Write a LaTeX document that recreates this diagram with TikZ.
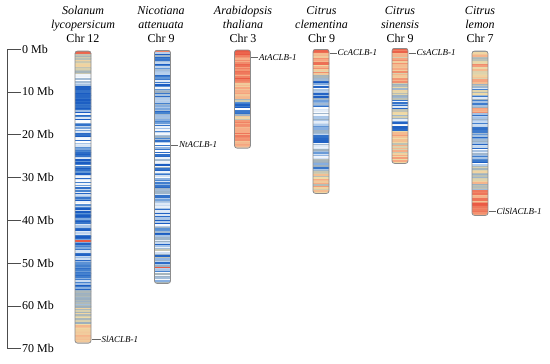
\documentclass[tikz,border=0pt]{standalone}
\usepackage{fontspec}
\setmainfont{Liberation Serif}
\usetikzlibrary{positioning}
\usepackage{xcolor}
% heat colours, low to high
\definecolor{h0}{HTML}{1A5CC2}
\definecolor{h1}{HTML}{4A86D0}
\definecolor{h2}{HTML}{FFFFFF}
\definecolor{h3}{HTML}{A9C6E8}
\definecolor{h4}{HTML}{9AAEBE}
\definecolor{h5}{HTML}{EFDCA8}
\definecolor{h6}{HTML}{F6AA84}
\definecolor{h7}{HTML}{EA5A44}

% name, x centre, y top, y bottom, segments (from/to/level/spread)
\newcommand{\chrom}[5]{%
  \begin{scope}
    \clip[rounded corners=2.5pt] (#2-8,#3) rectangle (#2+8,#4);
    \foreach \ta/\tb/\lv/\sd in {#5} {
      \pgfmathsetmacro\ya{#3+\ta*(#4-#3)}
      \pgfmathsetmacro\yb{#3+\tb*(#4-#3)}
      \pgfmathtruncatemacro\nb{max(1,round((\yb-\ya)/1.4))}
      \pgfmathsetmacro\hb{(\yb-\ya)/\nb}
      \foreach \j in {1,...,\nb} {
        \pgfmathsetmacro\lvv{max(0,min(6.999,\lv+\sd*rand))}
        \pgfmathtruncatemacro\k{floor(\lvv)}
        \pgfmathtruncatemacro\kn{\k+1}
        \pgfmathtruncatemacro\pc{round(100*(1-\lvv+\k))}
        \fill[h\k!\pc!h\kn] (#2-9,\ya+\j*\hb-\hb) rectangle (#2+9,\ya+\j*\hb+0.2);
      }
    }
  \end{scope}
  \node[chrbar, minimum height={(#4-#3)*1pt}, anchor=north] (#1) at (#2,#3) {};
}

\begin{document}
\begin{tikzpicture}[
  x=1pt, y=-1pt,
  every node/.style={font=\fontsize{12}{14}\selectfont},
  chrbar/.style={draw=black!45, line width=0.8pt, rounded corners=2.5pt,
    minimum width=16pt, inner sep=0pt},
  title/.style={align=center, anchor=south, inner sep=0pt},
  mblab/.style={anchor=west, inner sep=1pt},
  axisline/.style={draw=black!70, line width=0.6pt},
  genelab/.style={font=\fontsize{9}{10}\selectfont\itshape, inner sep=1pt},
  geneline/.style={draw=black!60, line width=0.5pt}
]
  \useasboundingbox (0,0) rectangle (550,364);
  \pgfmathsetseed{23}

  % Scale
  \coordinate (atop) at (7,49);
  \coordinate (abot) at (7,348.6);
  \draw[axisline] (atop) -- (abot);
  \foreach \v/\t in {0/0,1/10,2/20,3/30,4/40,5/50,6/60,7/70} {
    \coordinate (tk\v) at (7,49+42.8*\v);
    \node[mblab] (mb\v) at (21,49+42.8*\v) {\t{} Mb};
    \draw[axisline] (tk\v) -- (mb\v.west);
  }

  % Titles
  \node[title] (sltitle) at (83,42.5) {\textit{Solanum}\\\textit{lycopersicum}\\Chr 12};
  \node[title] (nttitle) at (161,42.5) {\textit{Nicotiana}\\\textit{attenuata}\\Chr 9};
  \node[title] (attitle) at (243,42.5) {\textit{Arabidopsis}\\\textit{thaliana}\\Chr 3};
  \node[title] (cctitle) at (321.5,42.5) {\textit{Citrus}\\\textit{clementina}\\Chr 9};
  \node[title] (cstitle) at (400,42.5) {\textit{Citrus}\\\textit{sinensis}\\Chr 9};
  \node[title] (cltitle) at (480,42.5) {\textit{Citrus}\\\textit{lemon}\\Chr 7};

  % Chromosomes
  \chrom{sl}{83}{50.7}{342.7}{0/0.012/6.9/0.1, 0.012/0.08/4.7/0.6, 0.08/0.12/2.5/1.5,
    0.12/0.2/0.3/0.4, 0.2/0.65/1.2/1.4, 0.65/0.655/7/0, 0.655/0.72/1.2/1.4,
    0.72/0.82/0.8/0.9, 0.82/0.88/3.8/0.5, 0.88/0.94/4.6/0.6, 0.94/1/5.6/0.5}
  \chrom{nt}{162.5}{50}{283}{0/0.01/6.5/0, 0.01/0.85/1.9/2.0, 0.85/0.93/2.6/2.4,
    0.93/0.935/7/0, 0.935/1/2.5/2.2}
  \chrom{at}{242.5}{49.5}{147.7}{0/0.06/6.9/0.2, 0.06/0.33/6.4/0.6, 0.33/0.5/5.7/0.7,
    0.5/0.53/4.3/0.5, 0.53/0.6/0.5/0.6, 0.6/0.615/2/0, 0.615/0.66/0.9/0.6,
    0.66/0.72/4.6/0.8, 0.72/1/6.1/0.6}
  \chrom{cc}{321}{49}{193}{0/0.03/6.8/0.2, 0.03/0.18/5.8/1.0, 0.18/0.22/4/1,
    0.22/0.6/2/2, 0.6/0.65/0.4/0.5, 0.65/0.85/2.4/1.9, 0.85/1/5.2/1.0}
  \chrom{cs}{400}{48}{163}{0/0.04/6.7/0.2, 0.04/0.3/5.6/0.9, 0.3/0.45/4.5/1,
    0.45/0.53/1.2/1.2, 0.53/0.62/4.4/1, 0.62/0.72/1.2/1.2, 0.72/1/5.3/0.9}
  \chrom{cl}{480}{50.7}{215}{0/0.08/5/0.9, 0.08/0.2/5.6/0.9, 0.2/0.35/2.8/2.3,
    0.35/0.38/6/0.4, 0.38/0.7/1.8/2.2, 0.7/0.85/4.5/1.3, 0.85/0.93/6.3/0.8,
    0.93/1/6.6/0.5}

  % Gene positions
  \coordinate (slg) at (91.5,339.3);
  \coordinate (ntg) at (171,145);
  \coordinate (atg) at (251,57.3);
  \coordinate (ccg) at (329.5,53);
  \coordinate (csg) at (408.5,53);
  \coordinate (clg) at (488.5,211);
  \node[genelab, right=9pt of slg, anchor=west] (sllab) {SlACLB-1};
  \node[genelab, right=7pt of ntg, anchor=west] (ntlab) {NtACLB-1};
  \node[genelab, right=7pt of atg, anchor=west] (atlab) {AtACLB-1};
  \node[genelab, right=7pt of ccg, anchor=west] (cclab) {CcACLB-1};
  \node[genelab, right=7pt of csg, anchor=west] (cslab) {CsACLB-1};
  \node[genelab, right=7pt of clg, anchor=west] (cllab) {ClSlACLB-1};
  \draw[geneline] (slg) -- (sllab);
  \draw[geneline] (ntg) -- (ntlab);
  \draw[geneline] (atg) -- (atlab);
  \draw[geneline] (ccg) -- (cclab);
  \draw[geneline] (csg) -- (cslab);
  \draw[geneline] (clg) -- (cllab);
\end{tikzpicture}
\end{document}
